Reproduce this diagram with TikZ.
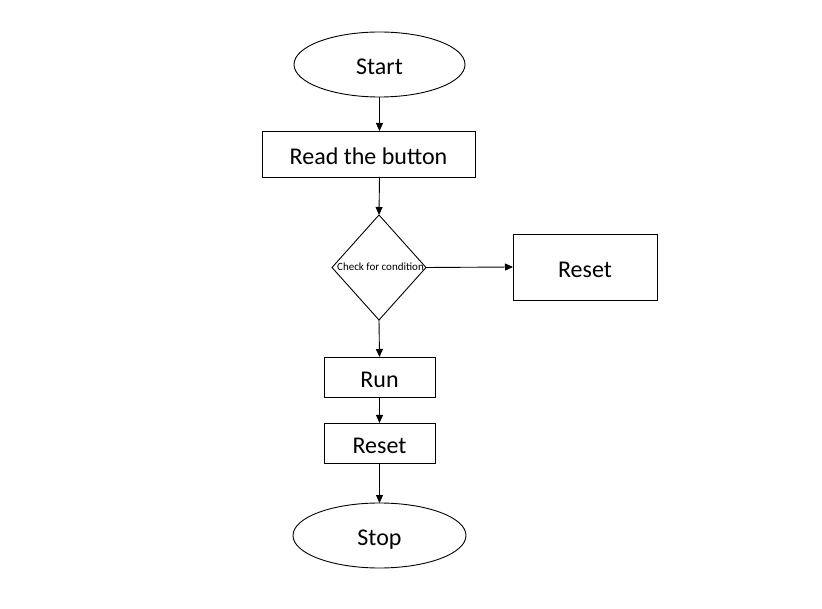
\documentclass[tikz,border=0pt]{standalone}
\usepackage{fontspec}
\setmainfont{Carlito}
\usetikzlibrary{shapes.geometric,arrows.meta}
\begin{document}
\begin{tikzpicture}[x=1pt,y=-1pt,
  base/.style={draw=black,line width=0.9pt,inner sep=0pt,outer sep=0pt,text height=20.5pt,text depth=0pt,font=\fontsize{24}{28}\selectfont},
  term/.style={base,ellipse,minimum width=171pt,minimum height=65pt},
  procbox/.style={base,rectangle},
  decision/.style={base,diamond,font=\fontsize{11}{13}\selectfont},
  conn/.style={draw=black,line width=0.9pt,-{Triangle[length=8pt,width=7pt]}}]
\useasboundingbox (0,0) rectangle (822,609);
\node[term] (start) at (379.5,64.5) {Start};
\node[procbox,minimum width=213pt,minimum height=46pt] (read) at (368.5,154) {Read the button};
\node[decision,minimum width=94pt,minimum height=105pt,inner sep=0pt] (check) at (379,267.5) {};
\node[font=\fontsize{11}{13}\selectfont,inner sep=0pt] (checklbl) at (380.5,267) {Check for condition};
\node[procbox,minimum width=144pt,minimum height=66pt] (reset1) at (585,267) {Reset};
\node[procbox,minimum width=111pt,minimum height=40pt] (run) at (379.5,377) {Run};
\node[procbox,minimum width=111pt,minimum height=40pt] (reset2) at (379.5,443) {Reset};
\node[term,minimum width=173pt] (stop) at (379.5,535.5) {Stop};
\draw[conn] (start.south) -- (start.south |- read.north);
\draw[conn] (start.south |- read.south) -- (check.north);
\draw[conn] (check.east) -- (reset1.west);
\draw[conn] (check.south) -- (run.north);
\draw[conn] (run.south) -- (reset2.north);
\draw[conn] (reset2.south) -- (stop.north);
\end{tikzpicture}
\end{document}
